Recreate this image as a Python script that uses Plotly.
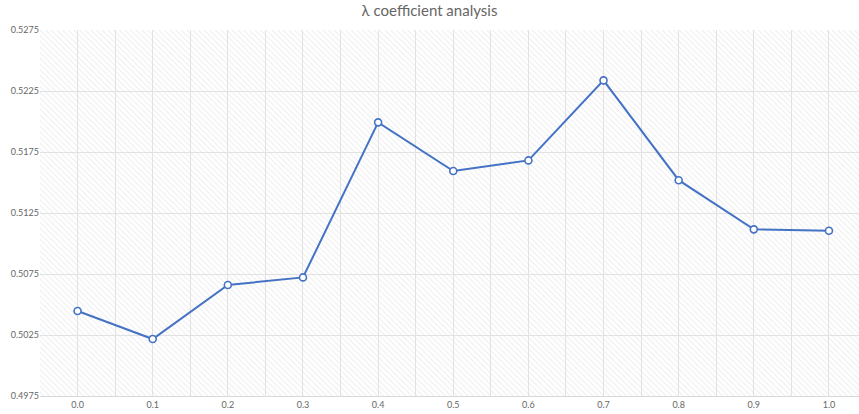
import plotly.graph_objects as go

lambda_values = [0.0, 0.1, 0.2, 0.3, 0.4, 0.5, 0.6, 0.7, 0.8, 0.9, 1.0]
scores = [0.50447, 0.50217, 0.50660, 0.50722, 0.51993, 0.51594, 0.51681, 0.52337, 0.51519, 0.51116, 0.51105]
y_ticks = [0.4975, 0.5025, 0.5075, 0.5125, 0.5175, 0.5225, 0.5275]
title_text = "λ coefficient analysis"

BLUE = "#4472C4"
GRID = "#e3e3e3"
TXT = "#666666"
FONT = "Lato, 'Open Sans', sans-serif"

fig = go.Figure()

# hatched plot-area background on hidden main axes (unit square)
fig.add_trace(go.Scatter(
    x=[0, 1, 1, 0, 0], y=[0, 0, 1, 1, 0], mode="lines",
    line=dict(width=0), fill="toself", fillcolor="rgba(0,0,0,0)",
    fillpattern=dict(shape="\\", fgcolor="#dadada", bgcolor="rgba(0,0,0,0)",
                     size=4, solidity=0.25),
    hoverinfo="skip", showlegend=False, xaxis="x", yaxis="y"))

# data series on the visible overlay axes
fig.add_trace(go.Scatter(
    x=lambda_values, y=scores, mode="lines+markers",
    line=dict(color=BLUE, width=2),
    marker=dict(symbol="circle", size=7, color="white",
                line=dict(color=BLUE, width=1.6)),
    showlegend=False, xaxis="x2", yaxis="y2"))

fig.update_layout(
    width=859, height=414,
    margin=dict(l=40, r=0, t=30, b=18),
    paper_bgcolor="white", plot_bgcolor="white",
    title=dict(text=title_text, x=0.5, xanchor="center", y=0.975, yanchor="middle",
               font=dict(family=FONT, size=15, color=TXT)),
    xaxis=dict(range=[0, 1], visible=False, fixedrange=True),
    yaxis=dict(range=[0, 1], visible=False, fixedrange=True),
    xaxis2=dict(overlaying="x", range=[-0.05, 1.04], tickvals=lambda_values,
                tickformat=".1f", showgrid=True, gridcolor=GRID, gridwidth=1,
                minor=dict(dtick=0.1, tick0=0.05, showgrid=True, gridcolor=GRID, gridwidth=1),
                showline=True, linecolor="#d9d9d9", linewidth=1,
                ticks="", zeroline=False,
                tickfont=dict(family=FONT, size=9, color=TXT)),
    yaxis2=dict(overlaying="y", range=[0.4975, 0.5275], tickvals=y_ticks,
                tickformat=".4f", showgrid=True, gridcolor=GRID, gridwidth=1,
                zeroline=False, showline=False, ticks="",
                tickfont=dict(family=FONT, size=9, color=TXT)),
)

fig.write_html("out.html", config={"displayModeBar": False},
               post_script="document.body.style.margin='0';document.body.style.overflow='hidden';")
